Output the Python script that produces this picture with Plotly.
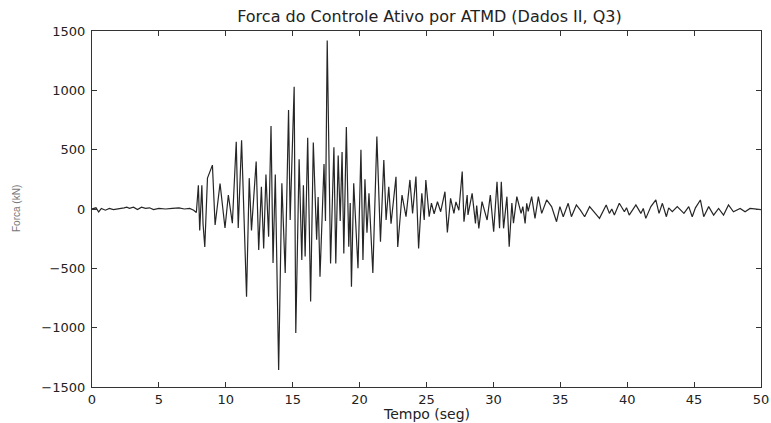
import plotly.graph_objects as go

# ---- data (time in s, force in kN) ----
t_pre = [0.0, 0.3, 0.5, 0.7, 1.0, 1.3, 1.6, 2.0, 2.4, 2.6, 2.8, 3.1, 3.4, 3.7, 4.0, 4.3,
         4.6, 5.0, 5.5, 6.0, 6.5, 6.9, 7.3, 7.6, 7.8]
f_pre = [0, 10, -25, 5, -10, 5, -5, 0, 10, 15, 5, 15, -5, 15, 5, 10,
         -5, 5, 0, 5, 10, 0, 5, -10, -30]

t_strong = [7.95, 8.05, 8.21, 8.3, 8.43, 8.63, 9.0, 9.2, 9.57, 9.94, 10.19, 10.49, 10.78, 10.93,
            11.18, 11.55, 11.75, 11.92, 12.27, 12.46, 12.66, 12.83, 13.0, 13.2, 13.38, 13.53,
            13.7, 13.95, 14.19, 14.44, 14.69, 14.81, 15.11, 15.23, 15.48, 15.68, 15.8, 15.93,
            16.12, 16.34, 16.54, 16.79, 16.9, 17.04, 17.34, 17.45, 17.58, 17.83, 18.08, 18.22,
            18.4, 18.55, 18.69, 18.82, 19.01, 19.19, 19.3, 19.39, 19.56, 19.88, 20.1, 20.25,
            20.4, 20.55, 20.7, 20.99, 21.29, 21.56, 21.81, 21.98, 22.18, 22.35, 22.72, 22.85,
            23.17, 23.47, 23.76, 23.96, 24.21, 24.41, 24.65, 24.83, 24.95, 25.2, 25.37, 25.57,
            25.82, 26.06, 26.38, 26.56, 26.8, 27.05, 27.2, 27.42, 27.67, 27.8]
f_strong = [200, -180, 200, -126, -320, 260, 370, -135, 215, -160, 118, -120, 567, -160,
            580, -740, 260, -180, 400, -345, 188, -332, 290, -233, 700, -455,
            290, -1357, 216, -540, 835, -93, 1030, -1045, 420, -430, 200, -400,
            600, -780, 560, -260, 100, -570, 380, -100, 1420, -460, 520, -460,
            450, -100, 480, -374, 690, -318, 50, -655, 216, -500, 500, -430,
            250, -200, 132, -540, 610, -275, 413, -93, 188, -124, 272, -320,
            118, -65, 245, -37, 273, -332, 132, -93, 245, -65, 50, -40,
            61, -23, 146, -197, 90, -37, 60, -10, 315, -107]

t_decay = [28.04, 28.1, 28.41, 28.66, 28.75, 28.91, 29.15, 29.53, 29.77, 30.02, 30.27, 30.46,
           30.59, 30.76, 31.01, 31.18, 31.38, 31.5, 31.75, 32.07, 32.2, 32.37, 32.49, 32.6,
           32.86, 33.11, 33.36, 33.61, 33.98, 34.35, 34.72, 34.97, 35.22, 35.59, 35.83, 36.2,
           36.5, 36.82, 37.19, 37.5, 37.93, 38.43, 38.67, 38.85, 39.04, 39.41, 39.79, 39.95,
           40.15, 40.65, 41.02, 41.2, 41.39, 41.77, 42.14, 42.38, 42.63, 42.93, 43.1, 43.37,
           43.74, 44.24, 44.6, 44.86, 45.1, 45.47, 45.72, 46.09, 46.46, 46.83, 47.2, 47.57,
           47.94, 48.44, 48.81, 49.18, 50.0]
f_decay = [118, -50, 132, -121, 30, -163, 62, -93, 118, -191, 230, -163,
           230, -163, 104, -318, 50, -120, 104, -37, 20, -121, 48, -20,
           104, -79, 104, -37, 76, 20, -107, 20, -65, 48, -65, 34,
           -10, -65, 20, -20, -79, 34, -37, 0, -51, 48, -23, 10,
           -51, 34, -37, 5, -79, 20, 76, -37, 48, -65, 10, -23,
           20, -37, 20, -65, 10, 76, -65, 20, -51, 5, -51, 34,
           -23, 5, -23, 5, -5]

x_ticks = [0, 5, 10, 15, 20, 25, 30, 35, 40, 45, 50]
y_ticks = [-1500, -1000, -500, 0, 500, 1000, 1500]

t_all = t_pre + t_strong + t_decay
f_all = f_pre + f_strong + f_decay

fig = go.Figure()
fig.add_trace(go.Scatter(x=t_all, y=f_all, mode="lines",
                         line=dict(color="#262626", width=1.2), showlegend=False))

font_main = "DejaVu Sans, Arial, sans-serif"
axis_common = dict(showline=True, linecolor="#333", linewidth=1.2, mirror="allticks",
                   ticks="inside", ticklen=5, tickcolor="#333", showgrid=False,
                   zeroline=False, ticklabeloverflow="allow", automargin=False,
                   tickfont=dict(family=font_main, size=13, color="#222"))

fig.update_layout(
    width=771, height=423,
    margin=dict(l=92, r=10, t=31, b=36),
    paper_bgcolor="white", plot_bgcolor="white",
    title=dict(text="Forca do Controle Ativo por ATMD (Dados II, Q3)",
               x=0.557, xanchor="center", y=0.962, yanchor="middle",
               font=dict(family=font_main, size=16, color="#222")),
    xaxis=dict(range=[0, 50], tickvals=x_ticks, ticklabelstandoff=0, **axis_common),
    yaxis=dict(range=[-1500, 1500], tickvals=y_ticks, ticklabelstandoff=3, **axis_common),
    annotations=[
        dict(text="Tempo (seg)", xref="paper", yref="paper", x=0.5, y=0,
             yshift=-27, xanchor="center", yanchor="middle", showarrow=False,
             font=dict(family=font_main, size=14, color="#222")),
        dict(text="Forca (kN)", xref="paper", yref="paper", x=0, y=0.5,
             xshift=-76, textangle=-90, xanchor="center", yanchor="middle",
             showarrow=False, font=dict(family="Liberation Sans, Arial, sans-serif",
                                        size=10, color="#777")),
    ],
)

fig.write_html("out.html", config={"displayModeBar": False},
               post_script="document.body.style.margin='0';")
